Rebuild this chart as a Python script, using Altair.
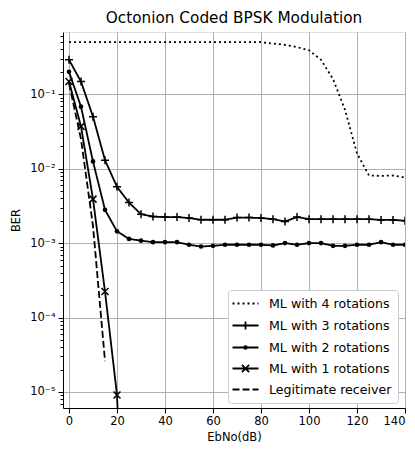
import altair as alt
import pandas as pd

# ---------------- data ----------------
ebno = [0, 5, 10, 15, 20, 25, 30, 35, 40, 45, 50, 55, 60, 65, 70,
        75, 80, 85, 90, 95, 100, 105, 110, 115, 120, 125, 130, 135, 140]

ml4 = [0.5, 0.5, 0.5, 0.5, 0.5, 0.5, 0.5, 0.5, 0.5, 0.5, 0.5, 0.5, 0.5, 0.5, 0.5,
       0.5, 0.5, 0.48, 0.46, 0.43, 0.39, 0.29, 0.16, 0.062, 0.016, 0.0081, 0.0080, 0.0081, 0.0076]

ml3 = [0.29, 0.148, 0.05, 0.013, 0.0057, 0.0035, 0.00245, 0.00227, 0.00224, 0.00224,
       0.00217, 0.00206, 0.00206, 0.00206, 0.0022, 0.0022, 0.00217, 0.0021, 0.00195, 0.00224,
       0.0021, 0.0021, 0.0021, 0.0021, 0.0021, 0.0021, 0.00205, 0.00205, 0.002]

ml2 = [0.2, 0.068, 0.0125, 0.0028, 0.00144, 0.00114, 0.00108, 0.00103, 0.00103, 0.00103,
       0.00095, 0.0009, 0.00092, 0.00095, 0.00095, 0.00095, 0.00095, 0.00093, 0.001, 0.00095,
       0.001, 0.001, 0.00092, 0.00092, 0.00095, 0.00095, 0.00103, 0.00095, 0.00095]

ebno_ml1 = [0, 5, 10, 15, 20, 25]
ml1 = [0.148, 0.037, 0.0039, 0.000224, 9.1e-6, 1e-9]

ebno_legit = [0, 5, 10, 15]
legit = [0.14, 0.025, 0.0017, 2.6e-5]

series = ["ML with 4 rotations", "ML with 3 rotations", "ML with 2 rotations",
          "ML with 1 rotations", "Legitimate receiver"]

x_ticks = [0, 20, 40, 60, 80, 100, 120, 140]

# ---------------- build table ----------------
rows = []
for name, xs, ys in [(series[0], ebno, ml4), (series[1], ebno, ml3), (series[2], ebno, ml2),
                     (series[3], ebno_ml1, ml1), (series[4], ebno_legit, legit)]:
    for xv, yv in zip(xs, ys):
        rows.append({"ebno": xv, "ber": yv, "series": name})
df = pd.DataFrame(rows)

FONT = "DejaVu Sans"
YMIN, YMAX = 10 ** -5.215, 10 ** -0.164

xscale = alt.Scale(domain=[-2.5, 140], nice=False, zero=False)
yscale = alt.Scale(type="log", domain=[YMIN, YMAX], nice=False)

y_vals = []
for e in range(-6, 1):
    for m in range(1, 10):
        v = m * 10.0 ** e
        if YMIN <= v <= YMAX:
            y_vals.append(v)

is_major = "abs(log(datum.value)/LN10 - round(log(datum.value)/LN10)) < 1e-6"
label_expr = (is_major + " ? '10\u207b' + ['\u2070','\u00b9','\u00b2','\u00b3','\u2074','\u2075','\u2076']"
              "[-round(log(datum.value)/LN10)] : ''")

x_enc = alt.X("ebno:Q", scale=xscale,
              axis=alt.Axis(values=x_ticks, title="EbNo(dB)", grid=True, gridColor="#b0b0b0",
                            gridWidth=1, tickSize=5, tickColor="black", domainColor="black",
                            labelFont=FONT, labelFontSize=11.5, labelColor="black", labelPadding=2,
                            titleFont=FONT, titleFontSize=11.5, titleFontWeight="normal",
                            titleColor="black", titlePadding=5, labelFlush=True))
y_enc = alt.Y("ber:Q", scale=yscale,
              axis=alt.Axis(values=y_vals, title="BER", labelExpr=label_expr, labelOverlap=False,
                            grid=True, gridColor="#b0b0b0", gridWidth=1,
                            gridOpacity={"condition": {"test": is_major, "value": 1}, "value": 0},
                            tickSize={"condition": {"test": is_major, "value": 5}, "value": 3},
                            tickColor="black", domainColor="black",
                            labelFont=FONT, labelFontSize=11.5, labelColor="black", labelPadding=3,
                            titleFont=FONT, titleFontSize=11.5, titleFontWeight="normal",
                            titleColor="black", titlePadding=8, labelFlush=False))

base = alt.Chart(df)

dashes = [[2, 3], [1, 0], [1, 0], [1, 0], [7, 3]]
line_layers = [
    base.transform_filter(alt.datum.series == s).mark_line(
        clip=True, strokeWidth=1.8, color="black", strokeDash=d).encode(x=x_enc, y=y_enc)
    for s, d in zip(series, dashes)
]

PLUS = "M-1,0H1M0,-1V1"
CROSS = "M-1,-1L1,1M-1,1L1,-1"

pts3 = base.transform_filter(alt.datum.series == series[1]).mark_point(
    shape=PLUS, size=64, filled=True, color="black", stroke="black", strokeWidth=1.5,
    opacity=1, clip=True).encode(x=x_enc, y=y_enc)
pts2 = base.transform_filter(alt.datum.series == series[2]).mark_point(
    shape="circle", size=22, filled=True, color="black", opacity=1, clip=True).encode(x=x_enc, y=y_enc)
pts1 = base.transform_filter(alt.datum.series == series[3]).mark_point(
    shape=CROSS, size=49, filled=True, color="black", stroke="black", strokeWidth=1.5,
    opacity=1, clip=True).encode(x=x_enc, y=y_enc)


# legend symbol paths (unit = 6.5 px, span 26 px)
def seg(a, b):
    return "M%.3f,0H%.3f" % ((a - 13) / 6.5, (b - 13) / 6.5)


dotted = "".join(seg(a, a + 2) for a in [0, 5, 10, 15, 20]) + seg(25, 26)
dashed = seg(0, 7) + seg(10, 17) + seg(20, 26)
solid = "M-2,0H2"
dot = "M-0.2,0A0.2,0.2 0 1,0 0.2,0A0.2,0.2 0 1,0 -0.2,0Z"
leg_paths = [
    dotted,
    solid + "M0,-0.62V0.62",
    solid + dot,
    solid + "M-0.55,-0.55L0.55,0.55M-0.55,0.55L0.55,-0.55",
    dashed,
]

# legend carrier: only the off-scale point (clipped, so nothing is drawn in the plot)
legend_layer = base.transform_filter(f"datum.ber < {YMIN}").mark_point(
    filled=False, color="black", strokeWidth=1.8, opacity=1, clip=True).encode(
    x=x_enc, y=y_enc,
    shape=alt.Shape("series:N", scale=alt.Scale(domain=series, range=leg_paths),
                    legend=alt.Legend(title=None, orient="none", legendX=165, legendY=258,
                                      padding=6, symbolSize=169, symbolStrokeWidth=1.8,
                                      symbolStrokeColor="black",
                                      symbolOpacity=1, symbolOffset=4,
                                      labelFont=FONT, labelFontSize=12.6, labelColor="black",
                                      labelOffset=16, labelLimit=300, rowPadding=6,
                                      fillColor="white", strokeColor="#cccccc",
                                      cornerRadius=3)),
)

chart = alt.layer(*line_layers, pts3, pts2, pts1, legend_layer).properties(
    width=342, height=376,
    title=alt.TitleParams("Octonion Coded BPSK Modulation", font=FONT, fontSize=15.3,
                          fontWeight="normal", color="black", offset=4, anchor="middle"),
    autosize=alt.AutoSizeParams(type="none"),
    padding={"left": 55, "top": 24, "right": 2, "bottom": 36},
).configure_view(stroke="black", strokeWidth=1).configure(background="white")

chart.save("out.html", embed_options={"renderer": "svg", "actions": False})
